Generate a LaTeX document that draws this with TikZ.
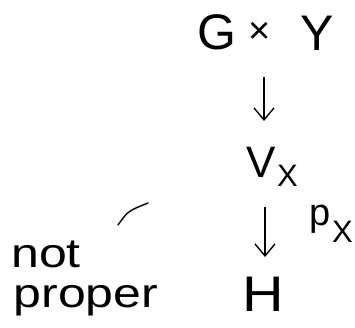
\documentclass[tikz,border=0pt]{standalone}
\usepackage{fontspec}
\setmainfont{Liberation Sans}
\usetikzlibrary{arrows.meta}
\begin{document}
\begin{tikzpicture}[x=1pt,y=1pt,
  lbl/.style={inner sep=0pt, font=\fontsize{50}{54}\selectfont},
  sub/.style={inner sep=0pt, font=\fontsize{31}{34}\selectfont},
  wrd/.style={inner sep=0pt, anchor=base, xscale=1.22, font=\fontsize{41}{44}\selectfont},
  arr/.style={line width=1.4pt, -{Straight Barb[length=12pt,width=20pt,line width=1.4pt]}},
  stroke/.style={line width=1.4pt, line cap=round}]
\useasboundingbox (0,0) rectangle (355,327);
\node[lbl] (G) at (217,295) {G};
\node[inner sep=0pt, font=\fontsize{38}{40}\selectfont] (times) at (260,294) {×};
\node[lbl] (Y) at (317,294) {Y};
\node[lbl, anchor=base east, font=\fontsize{44}{48}\selectfont] (V) at (276,150) {V};
\node[sub, anchor=base west] (VX) at (277,141) {X};
\node[inner sep=0pt, anchor=base east, font=\fontsize{38}{40}\selectfont] (p) at (331,102) {p};
\node[sub, anchor=base west] (pX) at (332,85) {X};
\node[lbl, xscale=1.15] (H) at (263,33) {H};
\node[wrd] (not) at (46,60) {not};
\node[wrd] (proper) at (86,20) {proper};
\coordinate (a1s) at (264,250);
\coordinate (a1e) at (264,206);
\coordinate (a2s) at (265,120);
\coordinate (a2e) at (265,70);
\draw[arr] (a1s) -- (a1e);
\draw[arr] (a2s) -- (a2e);
\coordinate (s1) at (118,102);
\coordinate (s2) at (148,124);
\draw[stroke] (s1) .. controls (128,116) .. (s2);
\end{tikzpicture}
\end{document}
